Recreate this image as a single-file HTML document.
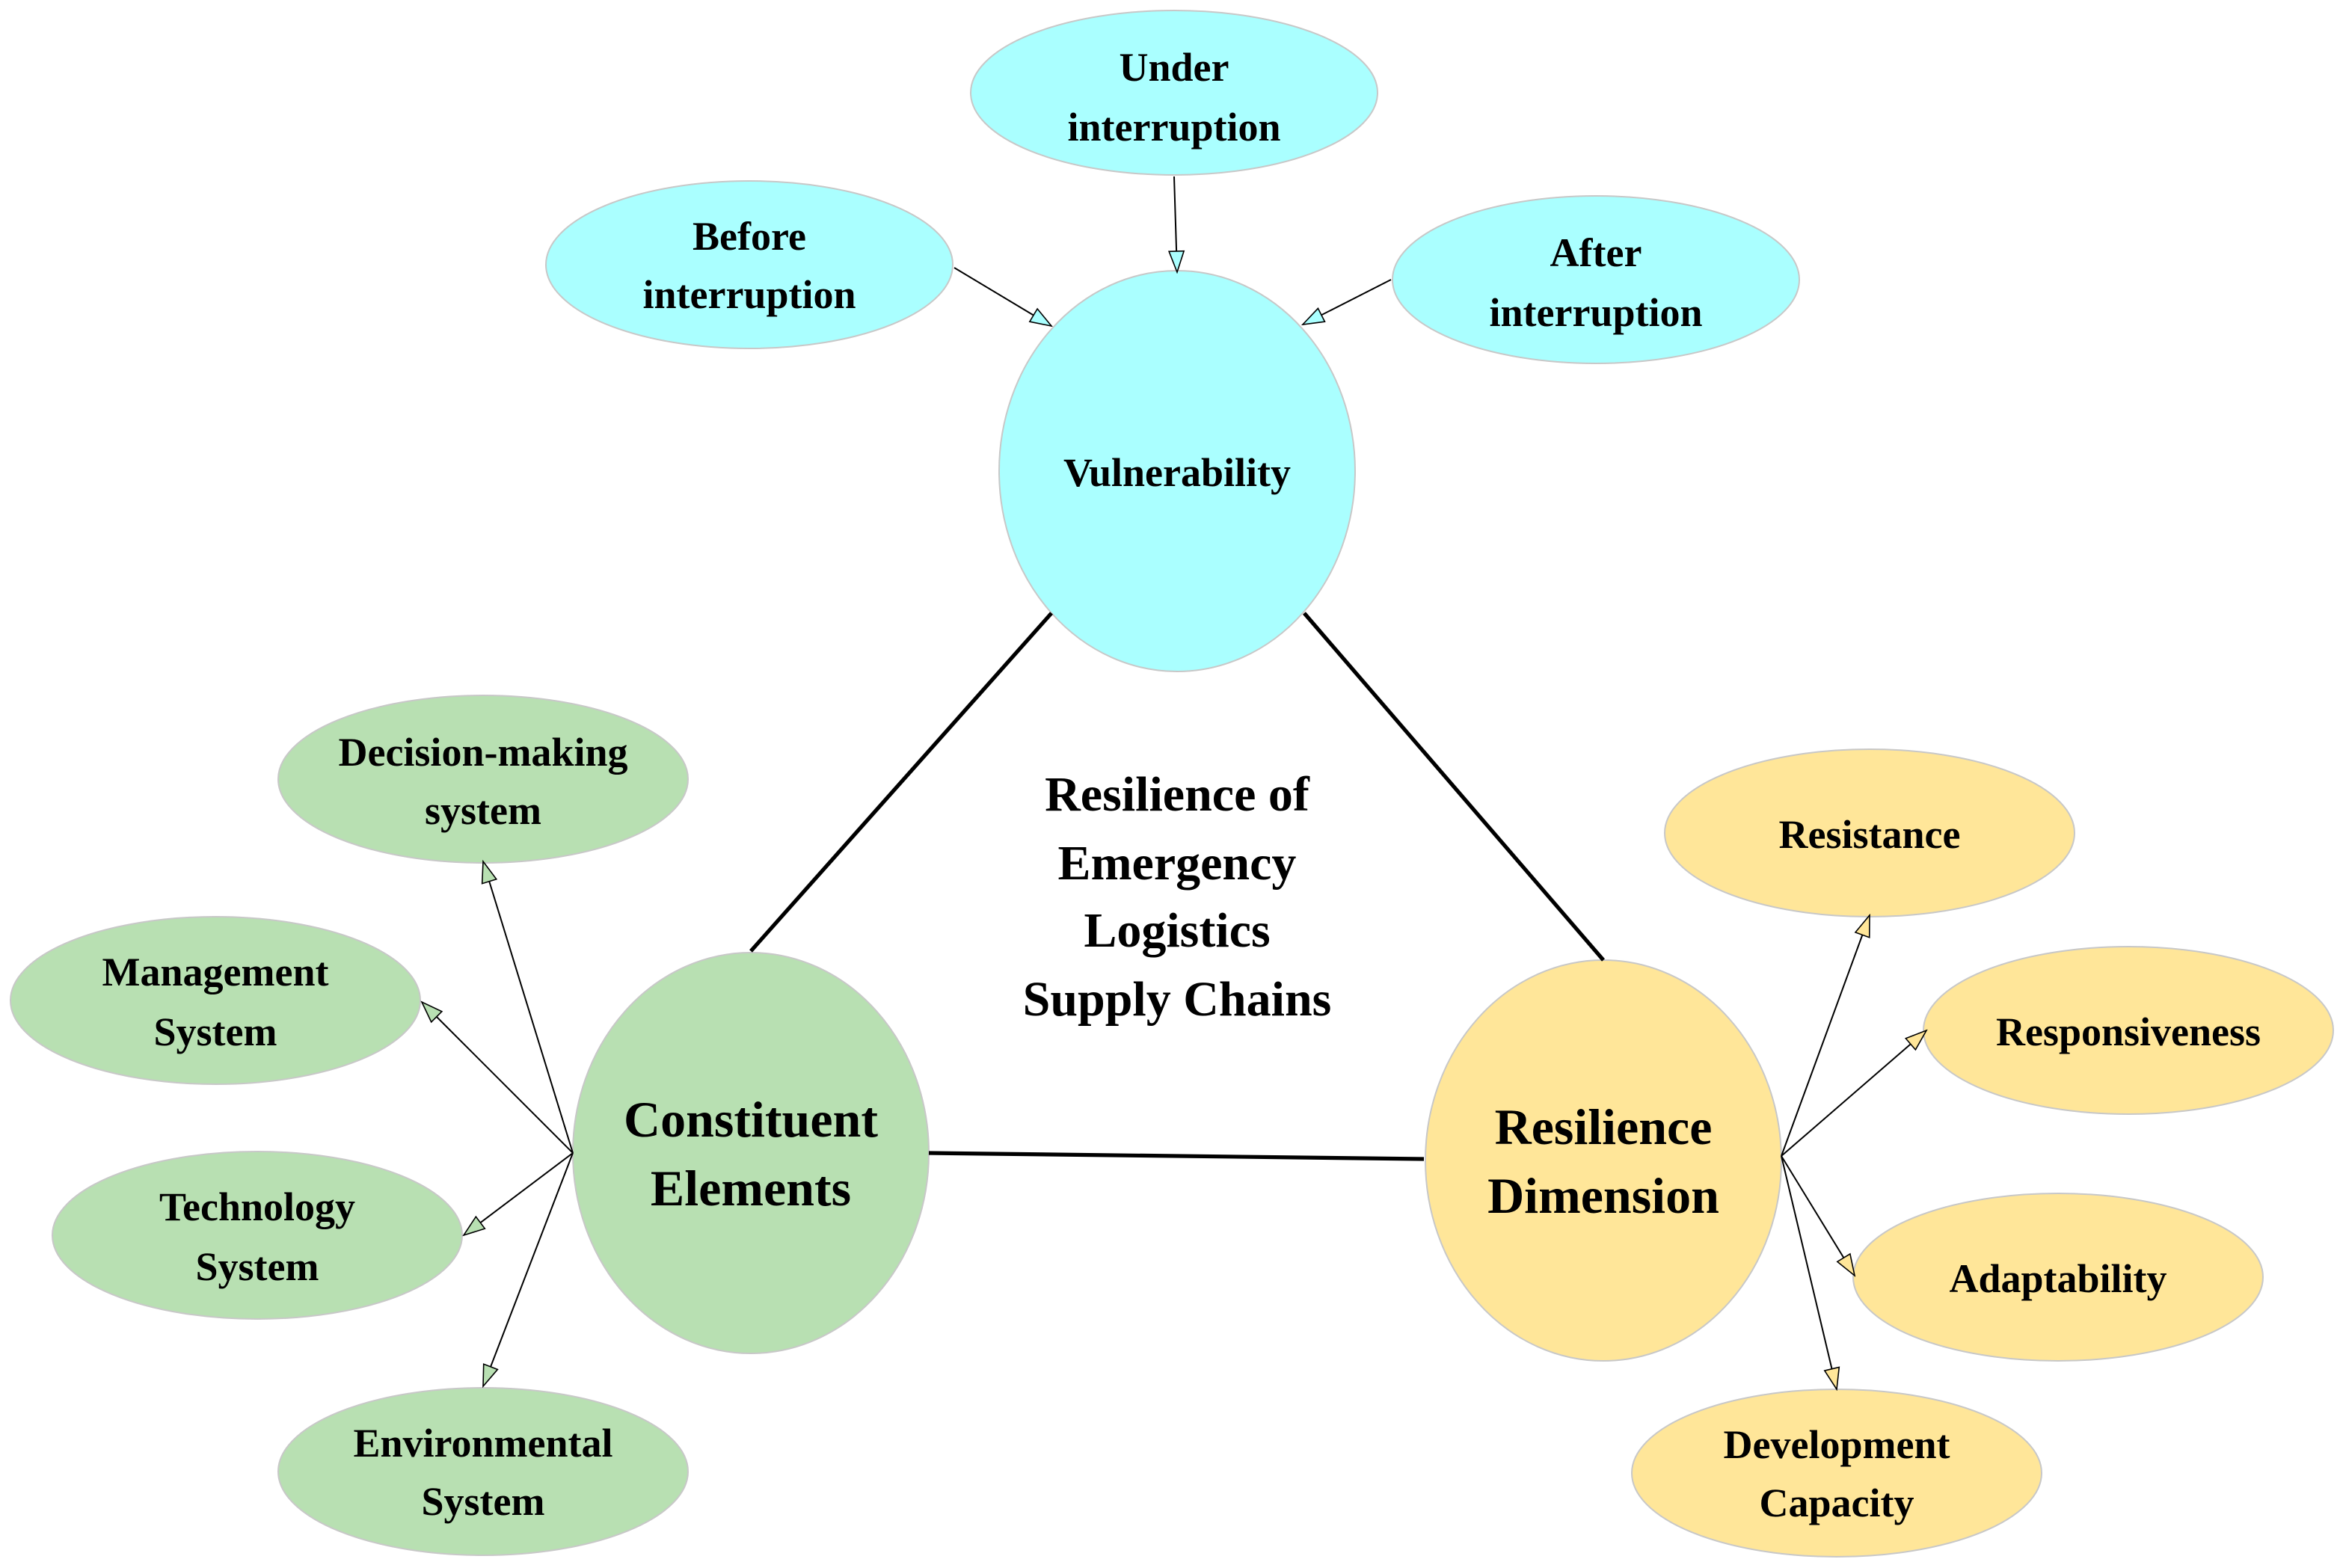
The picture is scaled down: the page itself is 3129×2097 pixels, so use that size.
<!DOCTYPE html>
<html><head><meta charset="utf-8"><style>html,body{margin:0;padding:0;background:#fff}</style></head>
<body>
<svg width="3129" height="2092" viewBox="0 0 1564.5 1046" xmlns="http://www.w3.org/2000/svg" font-family="'Liberation Serif',serif" font-weight="bold" text-anchor="middle">
<defs>
<marker id="mc" markerUnits="userSpaceOnUse" markerWidth="16" markerHeight="12" refX="15" refY="6" orient="auto"><path d="M1,1 L15,6 L1,11 Z" fill="#aaffff" stroke="#000" stroke-width="0.8"/></marker>
<marker id="mg" markerUnits="userSpaceOnUse" markerWidth="16" markerHeight="12" refX="15" refY="6" orient="auto"><path d="M1,1 L15,6 L1,11 Z" fill="#b8e0b2" stroke="#000" stroke-width="0.8"/></marker>
<marker id="my" markerUnits="userSpaceOnUse" markerWidth="16" markerHeight="12" refX="15" refY="6" orient="auto"><path d="M1,1 L15,6 L1,11 Z" fill="#ffe699" stroke="#000" stroke-width="0.8"/></marker>
</defs>
<g stroke="#c8c8c8" stroke-width="1">
<ellipse cx="785" cy="62" rx="136" ry="55" fill="#aaffff"/>
<ellipse cx="501" cy="177" rx="136" ry="56" fill="#aaffff"/>
<ellipse cx="1067" cy="187" rx="136" ry="56" fill="#aaffff"/>
<ellipse cx="787" cy="315" rx="119" ry="134" fill="#aaffff"/>
<ellipse cx="502" cy="771" rx="119" ry="134" fill="#b8e0b2"/>
<ellipse cx="1072" cy="776" rx="119" ry="134" fill="#ffe699"/>
<ellipse cx="323" cy="521" rx="137" ry="56" fill="#b8e0b2"/>
<ellipse cx="144" cy="669" rx="137" ry="56" fill="#b8e0b2"/>
<ellipse cx="172" cy="826" rx="137" ry="56" fill="#b8e0b2"/>
<ellipse cx="323" cy="984" rx="137" ry="56" fill="#b8e0b2"/>
<ellipse cx="1250" cy="557" rx="137" ry="56" fill="#ffe699"/>
<ellipse cx="1423" cy="689" rx="137" ry="56" fill="#ffe699"/>
<ellipse cx="1376" cy="854" rx="137" ry="56" fill="#ffe699"/>
<ellipse cx="1228" cy="985" rx="137" ry="56" fill="#ffe699"/>
</g>
<g stroke="#000" stroke-width="1">
<line x1="785" y1="118" x2="787" y2="182" marker-end="url(#mc)"/>
<line x1="638" y1="179" x2="703" y2="218" marker-end="url(#mc)"/>
<line x1="930" y1="187" x2="871" y2="217" marker-end="url(#mc)"/>
<line x1="383" y1="771" x2="323" y2="576" marker-end="url(#mg)"/>
<line x1="383" y1="771" x2="282" y2="670" marker-end="url(#mg)"/>
<line x1="383" y1="771" x2="310" y2="826" marker-end="url(#mg)"/>
<line x1="383" y1="771" x2="323" y2="927" marker-end="url(#mg)"/>
<line x1="1191" y1="773" x2="1250" y2="612" marker-end="url(#my)"/>
<line x1="1191" y1="773" x2="1288" y2="689" marker-end="url(#my)"/>
<line x1="1191" y1="773" x2="1240" y2="853" marker-end="url(#my)"/>
<line x1="1191" y1="773" x2="1228" y2="929" marker-end="url(#my)"/>
</g>
<g stroke="#000" stroke-width="2.6">
<line x1="703" y1="410" x2="502" y2="636"/>
<line x1="872" y1="410" x2="1072" y2="642"/>
<line x1="621" y1="771" x2="952" y2="775"/>
</g>
<g font-size="27" fill="#000">
<text x="785" y="54">Under</text><text x="785" y="94">interruption</text>
<text x="501" y="167">Before</text><text x="501" y="206">interruption</text>
<text x="1067" y="178">After</text><text x="1067" y="218">interruption</text>
<text x="787" y="325">Vulnerability</text>
<text x="323" y="512">Decision-making</text><text x="323" y="551">system</text>
<text x="144" y="659">Management</text><text x="144" y="699">System</text>
<text x="172" y="816">Technology</text><text x="172" y="856">System</text>
<text x="323" y="974">Environmental</text><text x="323" y="1013">System</text>
<text x="1250" y="567">Resistance</text>
<text x="1423" y="699">Responsiveness</text>
<text x="1376" y="864">Adaptability</text>
<text x="1228" y="975">Development</text><text x="1228" y="1014">Capacity</text>
</g>
<g font-size="34" fill="#000">
<text x="502" y="760">Constituent</text><text x="502" y="806">Elements</text>
<text x="1072" y="765">Resilience</text><text x="1072" y="811">Dimension</text>
</g>
<g font-size="33" fill="#000">
<text x="787" y="542">Resilience of</text>
<text x="787" y="588">Emergency</text>
<text x="787" y="633">Logistics</text>
<text x="787" y="679">Supply Chains</text>
</g>
</svg>
</body></html>
